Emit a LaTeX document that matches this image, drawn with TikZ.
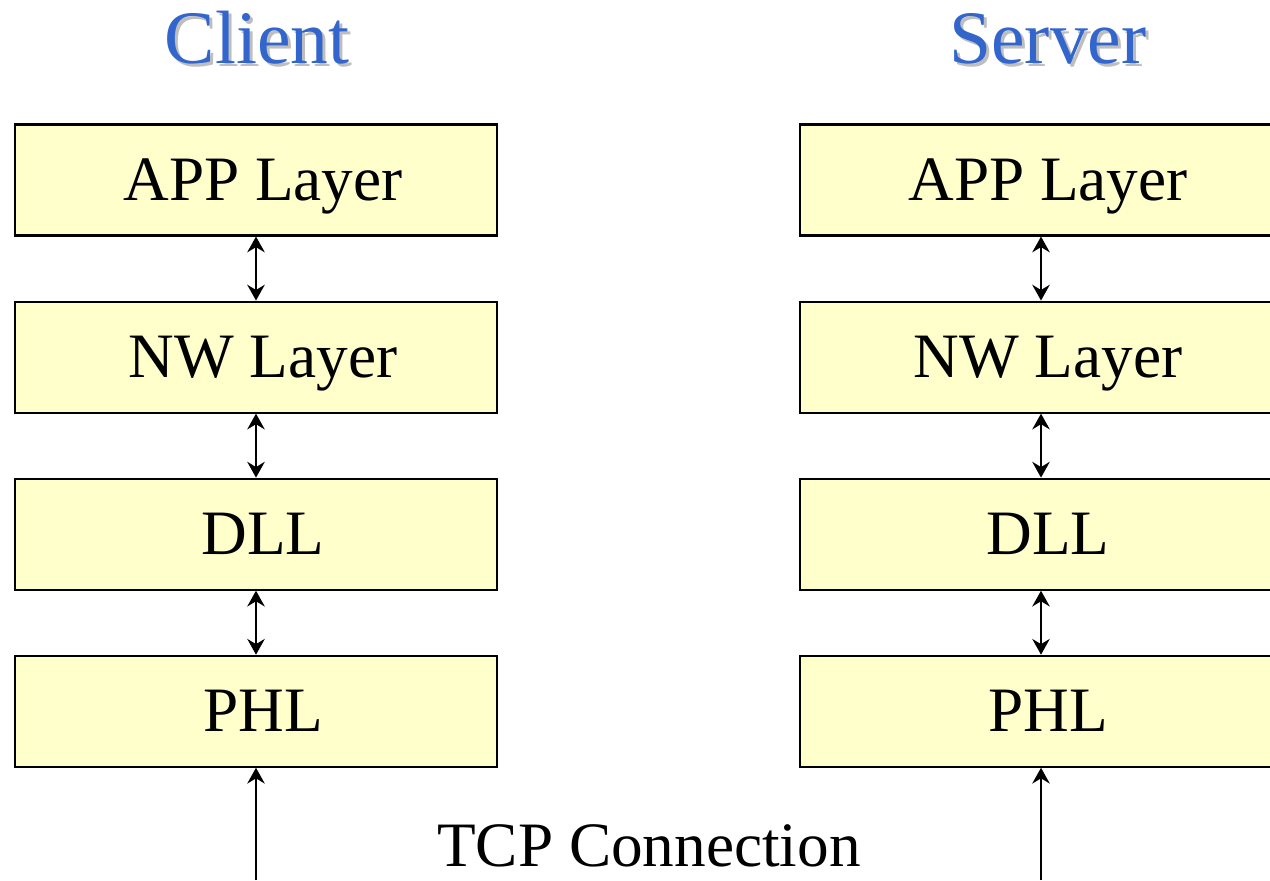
\documentclass[tikz,border=0pt]{standalone}
\usepackage{fontspec}
\setmainfont{Liberation Serif}
\usetikzlibrary{arrows.meta,positioning}

\definecolor{layerfill}{RGB}{255,255,204}
\definecolor{titleblue}{RGB}{51,102,204}
\definecolor{titleshade}{RGB}{190,190,190}

\begin{document}
\begin{tikzpicture}[x=0.02cm,y=-0.02cm,node distance=1.28cm,
	layer/.style={draw,line width=1.2pt,fill=layerfill,minimum width=9.64cm,minimum height=2.22cm,text depth=0pt,font=\fontsize{36}{42}\selectfont,execute at begin node={\hspace*{0.28cm}}},
	title/.style={anchor=base,font=\fontsize{43}{50}\selectfont},
	link/.style={{Stealth[length=9pt,width=10pt,inset=3pt]}-{Stealth[length=9pt,width=10pt,inset=3pt]},line width=1pt}]
		\path[use as bounding box,clip] (0,0) rectangle (1270,880);
		% titles with a soft shadow
		\node[title,text=titleshade] at (260,66) {Client};
		\node[title,text=titleblue] (client) at (257,63) {Client};
		\node[title,text=titleshade] at (1051,66) {Server};
		\node[title,text=titleblue] (server) at (1048,63) {Server};
		% client stack
		\node[layer] (capp) at (256,180) {APP Layer};
		\node[layer,below=of capp] (cnw) {NW Layer};
		\node[layer,below=of cnw] (cdll) {DLL};
		\node[layer,below=of cdll] (cphl) {PHL};
		% server stack
		\node[layer] (sapp) at (1041,180) {APP Layer};
		\node[layer,below=of sapp] (snw) {NW Layer};
		\node[layer,below=of snw] (sdll) {DLL};
		\node[layer,below=of sdll] (sphl) {PHL};
		\draw[link] (capp) -- (cnw);
		\draw[link] (cnw) -- (cdll);
		\draw[link] (cdll) -- (cphl);
		\draw[link] (sapp) -- (snw);
		\draw[link] (snw) -- (sdll);
		\draw[link] (sdll) -- (sphl);
		% link between the two hosts
		\coordinate (cbot) at (256,880);
		\coordinate (sbot) at (1041,880);
		\draw[-{Stealth[length=9pt,width=10pt,inset=3pt]},line width=1pt] (cbot) -- (cphl);
		\draw[-{Stealth[length=9pt,width=10pt,inset=3pt]},line width=1pt] (sbot) -- (sphl);
		\node[text depth=0pt,font=\fontsize{36}{42}\selectfont] (tcp) at (649,846) {TCP Connection};
	\end{tikzpicture}
\end{document}
